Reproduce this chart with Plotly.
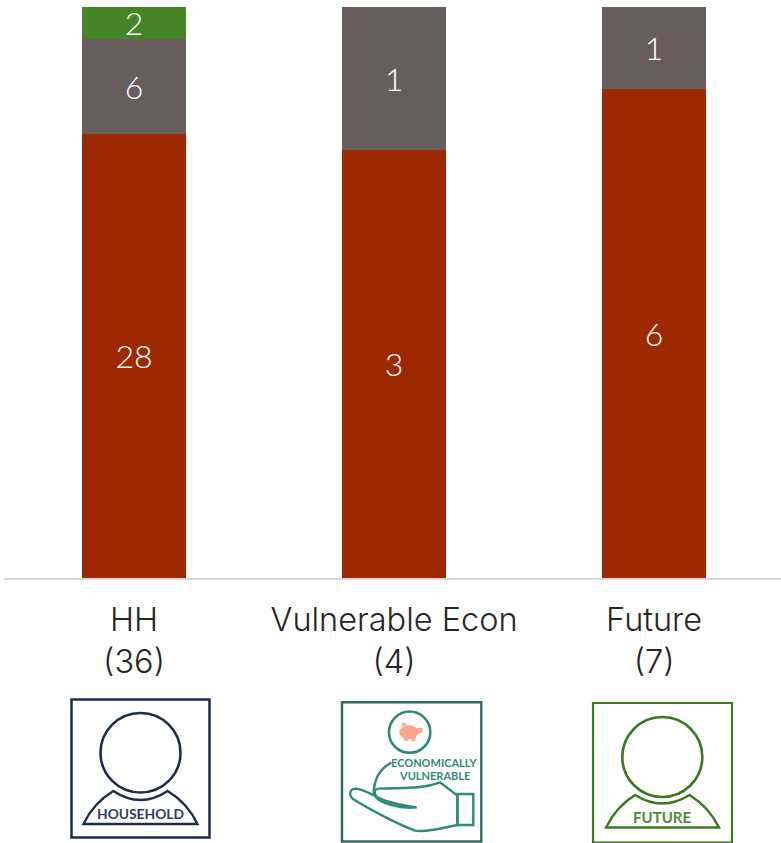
import plotly.graph_objects as go

W, H = 781, 843
categories = ["HH", "Vulnerable Econ", "Future"]
totals = [36, 4, 7]
red_values = [28, 3, 6]
grey_values = [6, 1, 1]
green_values = [2, None, None]

RED, GREY, GREEN = "#9C2900", "#675D5D", "#468525"
NAVY, TEAL_D, TEAL, LEAF, SALMON = "#1F2D4D", "#2F6B62", "#2E8B7A", "#3A7A1E", "#FFA58C"
FONT = "Lato, 'Open Sans', sans-serif"
THIN = "Inter, Lato, sans-serif"
TICK_SIZE, LABEL_SIZE = 32.5, 32

tick_text = [f"{c}<br>({t})" for c, t in zip(categories, totals)]

fig = go.Figure()
for vals, col in [(red_values, RED), (grey_values, GREY), (green_values, GREEN)]:
    fig.add_bar(
        x=categories, y=vals, marker=dict(color=col, line_width=0), width=0.4,
        text=vals, textposition="inside", insidetextanchor="middle", textangle=0,
        constraintext="none",
        insidetextfont=dict(color="white", size=LABEL_SIZE, family=FONT, weight=300),
        showlegend=False, hoverinfo="skip",
    )


def px(x, y):
    return f"{x / W:.5f},{1 - y / H:.5f}"


def path(ox, oy, s, cmds):
    """Icon outline from local coordinates (ox, oy origin, s scale) to paper space."""
    out = []
    for c in cmds:
        if c == "Z":
            out.append("Z")
            continue
        op, *pts = c
        out.append(op + " ".join(px(ox + a * s, oy + b * s) for a, b in pts))
    return " ".join(out)


shapes = []


def rect(x0, y0, x1, y1, col, lw):
    shapes.append(dict(type="rect", xref="paper", yref="paper", x0=x0 / W, x1=x1 / W,
                       y0=1 - y0 / H, y1=1 - y1 / H, line=dict(color=col, width=lw)))


def circ(x0, y0, x1, y1, col, lw, fill=None):
    shapes.append(dict(type="circle", xref="paper", yref="paper", x0=x0 / W, x1=x1 / W,
                       y0=1 - y0 / H, y1=1 - y1 / H, fillcolor=fill,
                       line=dict(color=col, width=lw)))


def pth(d, col, lw, fill=None):
    shapes.append(dict(type="path", xref="paper", yref="paper", path=d, fillcolor=fill,
                       line=dict(color=col, width=lw)))


def person(box, c, bl, br, tl, tr, ny, sy, by, col, lw_box=2.5):
    rect(*box, col, lw_box)
    circ(*c, col, 2.6)
    mx = (tl + tr) / 2
    cy = 2 * ny - sy
    pth(path(0, 0, 1, [
        ("M", (bl, by)),
        ("Q", (bl + 10, sy + 12), (tl, sy)),
        ("Q", (mx, cy), (tr, sy)),
        ("Q", (br - 10, sy + 12), (br, by)),
        "Z",
    ]), col, 2.4)


# Household icon
person((71.5, 699.5, 209.5, 837.5), (100.5, 713, 180.5, 792.5),
       83.5, 197.5, 113.3, 167.7, 800, 791, 824, NAVY)
# Future icon
person((593, 703, 732, 842.5), (622.3, 717, 702.3, 797),
       606, 719, 635, 689.5, 803.5, 795, 827.5, LEAF, 2.2)

# Economically vulnerable icon (local coordinates are 3x pixels from 320,690)
Z = 1 / 3
rect(342, 702.3, 481.3, 841.5, TEAL_D, 2.4)
circ(389, 711.5, 430.3, 752.8, TEAL, 2.6)
circ(399.3, 725.2, 418.5, 739.2, SALMON, 0, SALMON)
pth(path(320, 690, Z, [
    ("M", (248, 96)), ("L", (262, 104)), ("L", (245, 110)), "Z",
    ("M", (250, 132)), ("L", (265, 132)), ("L", (263, 153)), ("L", (252, 153)), "Z",
    ("M", (272, 132)), ("L", (288, 130)), ("L", (286, 153)), ("L", (275, 153)), "Z",
    ("M", (290, 115)), ("L", (308, 113)), ("L", (306, 128)), ("L", (288, 133)), "Z",
]), SALMON, 0, SALMON)
pth(path(320, 690, Z, [
    ("M", (214, 218)), ("Q", (162, 245), (161, 312)),
]), TEAL, 2.4)
pth(path(320, 690, Z, [
    ("M", (175, 296)),
    ("C", (240, 292), (300, 300), (360, 277)),
    ("L", (412, 317)),
    ("L", (412, 405)),
    ("C", (370, 412), (330, 428), (285, 422)),
    ("C", (240, 405), (150, 360), (100, 328)),
    ("C", (85, 316), (88, 296), (108, 296)),
    ("C", (125, 298), (150, 310), (165, 318)),
    ("C", (180, 340), (240, 358), (290, 352)),
    ("C", (240, 345), (190, 335), (168, 318)),
    ("C", (160, 305), (165, 298), (175, 296)),
]), TEAL, 2.4)
rect(457.5, 794, 473.3, 825, TEAL, 2.4)

annotations = []


def label(text, x, y, size, col):
    annotations.append(dict(text=f"<b>{text}</b>", xref="paper", yref="paper", x=x / W, y=1 - y / H,
                            xanchor="center", yanchor="middle", showarrow=False,
                            font=dict(size=size, color=col, family=FONT)))


label("HOUSEHOLD", 140.7, 813.3, 13.8, "#2C3E63")
label("ECONOMICALLY", 434, 762, 11, TEAL)
label("VULNERABLE", 434.7, 775, 11, TEAL)
label("FUTURE", 661.7, 816.5, 15, "#4E8C33")

fig.update_layout(
    width=W, height=H, autosize=False, barmode="stack", barnorm="percent",
    margin=dict(l=0, r=0, t=0, b=0, pad=0), paper_bgcolor="white", plot_bgcolor="white",
    shapes=shapes, annotations=annotations, font=dict(family=FONT, color="#262626"),
    xaxis=dict(domain=[4 / W, 1], range=[-0.5, 2.488], tickmode="array",
               tickvals=categories, ticktext=tick_text, automargin=False, ticks="", ticklen=0,
               ticklabelstandoff=12,
               tickfont=dict(size=TICK_SIZE, color="#262626", family=THIN, weight=300),
               showgrid=False, showline=True, linecolor="#D9D9D9", linewidth=2, zeroline=False),
    yaxis=dict(domain=[1 - 578 / H, 1 - 7 / H], range=[0, 100], visible=False, automargin=False),
)
fig.write_html("out.html", post_script="document.body.style.margin='0';document.body.style.overflow='hidden';",
               config=dict(displayModeBar=False))
